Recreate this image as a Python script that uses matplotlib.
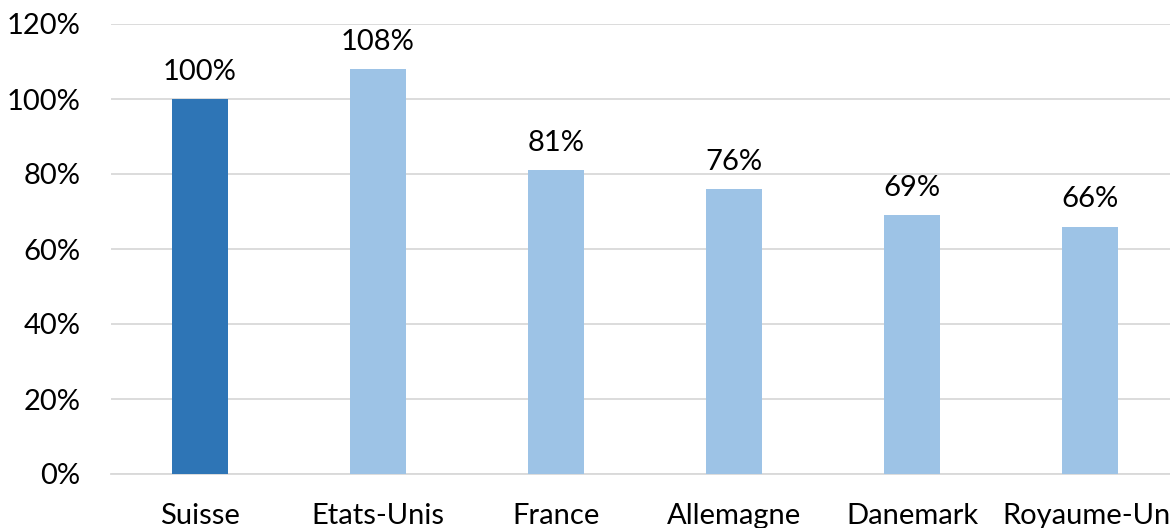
import matplotlib
matplotlib.use("Agg")
import matplotlib.pyplot as plt
from matplotlib.ticker import FuncFormatter

categories = ["Suisse", "Etats-Unis", "France", "Allemagne", "Danemark", "Royaume-Uni"]
values = [100, 108, 81, 76, 69, 66]
colors = ["#2E75B6", "#9DC3E6", "#9DC3E6", "#9DC3E6", "#9DC3E6", "#9DC3E6"]
yticks = [0, 20, 40, 60, 80, 100, 120]

plt.rcParams['font.family'] = ['Lato', 'DejaVu Sans']

W, H = 1170, 528
fig = plt.figure(figsize=(W/100, H/100), dpi=100)
left = 111 / W
bottom = (H - 474) / H
top = (H - 24) / H
width = (6 * 178) / W
ax = fig.add_axes([left, bottom, width, top - bottom])

x = list(range(len(categories)))
ax.bar(x, values, width=0.315, color=colors, zorder=3)
for xi, v in zip(x, values):
    ax.text(xi, v + 3.8, f"{v}%", ha="center", va="bottom", fontsize=21, color="#000000")

ax.set_xlim(-0.5, len(categories) - 0.5)
ax.set_ylim(0, 120)
ax.set_yticks(yticks)
ax.yaxis.set_major_formatter(FuncFormatter(lambda v, p: f"{int(v)}%"))
ax.set_xticks(x)
ax.set_xticklabels(categories)
ax.grid(axis="y", color="#D9D9D9", linewidth=1.3, zorder=0)
for s in ["top", "right", "left"]:
    ax.spines[s].set_visible(False)
ax.spines["bottom"].set_color("#D9D9D9")
ax.spines["bottom"].set_linewidth(1.3)
ax.tick_params(axis="both", length=0, labelsize=21, colors="#000000")
ax.tick_params(axis="x", pad=21)
ax.tick_params(axis="y", pad=22)

fig.savefig("out.png", dpi=100)
